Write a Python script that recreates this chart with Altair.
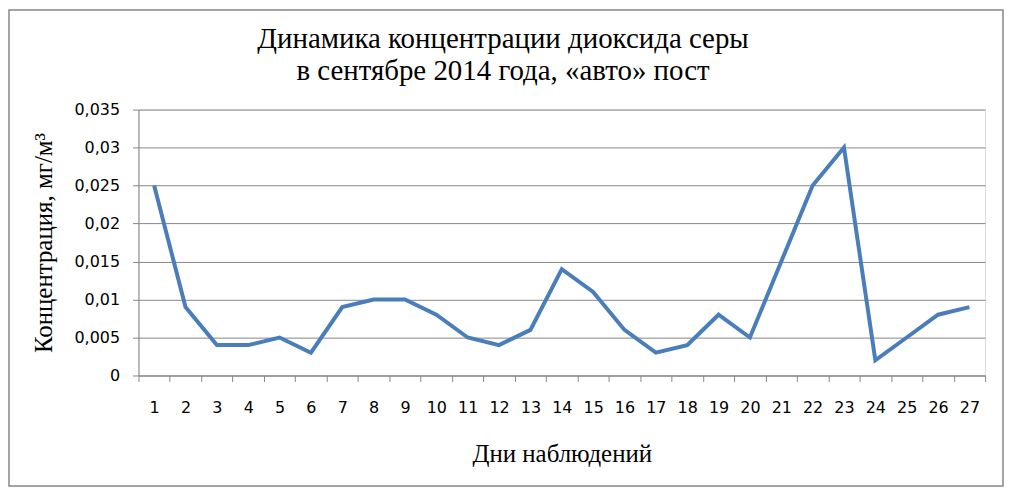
import altair as alt
import pandas as pd

days = list(range(1, 28))
so2 = [0.025, 0.009, 0.004, 0.004, 0.005, 0.003, 0.009, 0.010, 0.010, 0.008,
       0.005, 0.004, 0.006, 0.014, 0.011, 0.006, 0.003, 0.004, 0.008, 0.005,
       0.015, 0.025, 0.030, 0.002, 0.005, 0.008, 0.009]
y_ticks = [0, 0.005, 0.01, 0.015, 0.02, 0.025, 0.03, 0.035]
title_lines = ["Динамика концентрации диоксида серы", "в сентябре 2014 года, «авто» пост"]
x_title = "Дни наблюдений"
y_title = "Концентрация, мг/м³"

df = pd.DataFrame({"day": days, "value": so2})

W, H = 850, 267
PL, PT, PR, PB = 131, 101, 19, 112
GRAY = "#868686"
SERIF = "Liberation Serif"
SANS = "DejaVu Sans"

line = alt.Chart(df).mark_line(color="#4A7EBB", strokeWidth=4, strokeJoin="miter").encode(
    x=alt.X("day:O", title=x_title,
            scale=alt.Scale(paddingInner=0, paddingOuter=0),
            axis=alt.Axis(labelAngle=0, tickBand="extent", tickSize=6, tickColor=GRAY,
                          domainColor=GRAY, labelFont=SANS, labelFontSize=16, labelColor="#000000",
                          labelPadding=18, labelBaseline="top", grid=False,
                          titleFont=SERIF, titleFontSize=25, titleFontWeight="normal",
                          titleColor="#000000", titleX=W / 2, titleY=86,
                          titleBaseline="alphabetic", titleAlign="center")),
    y=alt.Y("value:Q", title=y_title,
            scale=alt.Scale(domain=[0, 0.035], nice=False),
            axis=alt.Axis(values=y_ticks, labelExpr="replace(format(datum.value, '~g'), '.', ',')",
                          tickSize=6, tickColor=GRAY, domainColor=GRAY, gridColor=GRAY,
                          labelFont=SANS, labelFontSize=16, labelColor="#000000", labelPadding=13,
                          titleFont=SERIF, titleFontSize=25, titleFontWeight="normal",
                          titleColor="#000000", titleAngle=-90, titleX=-87, titleY=H / 2,
                          titleBaseline="alphabetic", titleAlign="center")),
)

one = alt.Data(values=[{"k": 1}])

border = alt.Chart(one).mark_rect(fillOpacity=0, stroke=GRAY, strokeWidth=1.5).encode(
    x=alt.value(-PL + 1), x2=alt.value(W + PR - 1),
    y=alt.value(-PT + 1), y2=alt.value(H + PB - 1),
)

t1 = alt.Chart(one).mark_text(font=SERIF, fontSize=29, color="#000000",
                               align="center", baseline="alphabetic").encode(
    x=alt.value(366), y=alt.value(-62), text=alt.value(title_lines[0]))
t2 = alt.Chart(one).mark_text(font=SERIF, fontSize=29, color="#000000",
                               align="center", baseline="alphabetic").encode(
    x=alt.value(366), y=alt.value(-30), text=alt.value(title_lines[1]))

chart = alt.layer(border, line, t1, t2).properties(
    width=W, height=H,
    autosize=alt.AutoSizeParams(type="none"),
    padding={"left": PL, "top": PT, "right": PR, "bottom": PB},
).configure_view(stroke=None).configure(background="#ffffff")

chart.save("out.html", embed_options={"renderer": "svg", "actions": False})
